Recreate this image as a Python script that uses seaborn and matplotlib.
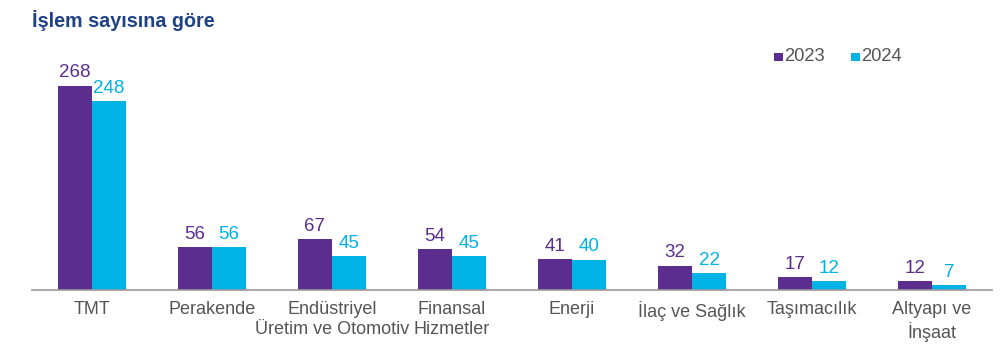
import matplotlib
matplotlib.use("Agg")
import matplotlib.pyplot as plt
import seaborn as sns
import pandas as pd
from matplotlib.patches import Rectangle

categories = ["TMT", "Perakende", "Endüstriyel\nÜretim ve Otomotiv", "Finansal\nHizmetler",
              "Enerji", "İlaç ve Sağlık", "Taşımacılık", "Altyapı ve\nİnşaat"]
values_2023 = [268, 56, 67, 54, 41, 32, 17, 12]
values_2024 = [248, 56, 45, 45, 40, 22, 12, 7]
years = ["2023", "2024"]
title = "İşlem sayısına göre"

PURPLE = "#5B2D8E"
CYAN = "#00B2E6"
GREY = "#555555"

df = pd.DataFrame({
    "cat": categories * 2,
    "val": values_2023 + values_2024,
    "year": [years[0]] * len(categories) + [years[1]] * len(categories),
})

sns.set_theme(style="white")
plt.rcParams["font.family"] = ["Liberation Sans", "DejaVu Sans"]

fig = plt.figure(figsize=(10, 3.59), dpi=100)
ax = fig.add_axes([0.032, 0.192, 0.96, 0.697])

sns.barplot(data=df, x="cat", y="val", hue="year", order=categories, hue_order=years,
            palette=[PURPLE, CYAN], width=0.567, saturation=1, ax=ax, legend=False,
            linewidth=0, edgecolor="none")

for cont, col in zip(ax.containers, [PURPLE, CYAN]):
    ax.bar_label(cont, color=col, fontsize=13.5, padding=3)

ax.set_xlim(-0.5, len(categories) - 0.5)
ax.set_ylim(0, 328)
ax.set_xlabel("")
ax.set_ylabel("")
ax.set_yticks([])
for s in ["top", "right", "left"]:
    ax.spines[s].set_visible(False)
ax.spines["bottom"].set_color("#999999")
ax.spines["bottom"].set_linewidth(1.2)
ax.tick_params(axis="x", length=0, labelsize=13, labelcolor=GREY, pad=8)
for lbl in ax.get_xticklabels():
    lbl.set_linespacing(1.25)

fig.text(0.032, 0.943, title, fontsize=14.2, fontweight="bold", color="#1F4287", va="center")

# legend
for x0, col, txt in [(0.774, PURPLE, years[0]), (0.851, CYAN, years[1])]:
    fig.patches.append(Rectangle((x0, 0.829), 0.0085, 0.024, transform=fig.transFigure,
                                 facecolor=col, edgecolor="none"))
    fig.text(x0 + 0.0105, 0.842, txt, fontsize=13.2, color=GREY, va="center")

fig.savefig("out.png", dpi=100)
